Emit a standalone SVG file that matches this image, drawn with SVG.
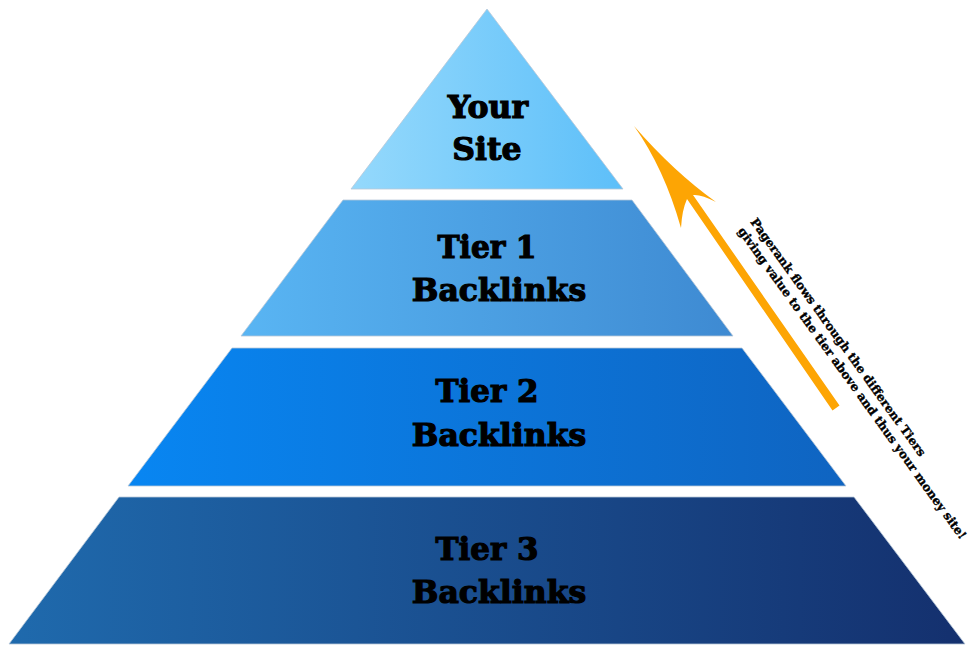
<svg xmlns="http://www.w3.org/2000/svg" width="977" height="653" viewBox="0 0 977 653">
<defs>
<linearGradient id="g0" x1="0" y1="0" x2="1" y2="0"><stop offset="0" stop-color="#95d9fc"/><stop offset="1" stop-color="#5dbff9"/></linearGradient>
<linearGradient id="g1" x1="0" y1="0" x2="1" y2="0"><stop offset="0" stop-color="#59b5f3"/><stop offset="1" stop-color="#3e8ad2"/></linearGradient>
<linearGradient id="g2" x1="0" y1="0" x2="1" y2="0"><stop offset="0" stop-color="#0886f2"/><stop offset="1" stop-color="#0f64c1"/></linearGradient>
<linearGradient id="g3" x1="0" y1="0" x2="1" y2="0"><stop offset="0" stop-color="#1f6aad"/><stop offset="1" stop-color="#14306e"/></linearGradient>
<style>
.shape{stroke:#b8c8d8;stroke-width:0.8;}
.lbl{font-family:"DejaVu Serif","Liberation Serif",serif;font-weight:bold;font-size:31.5px;fill:#000;stroke:#000;stroke-width:1.2;}
.note{font-family:"DejaVu Serif","Liberation Serif",serif;font-weight:bold;font-size:12px;fill:#000;stroke:#000;stroke-width:0.35;}
</style>
</defs>
<rect width="977" height="653" fill="#fff"/>
<g id="your-site">
<polygon class="shape" points="487,9 623,189 351,189" fill="url(#g0)"/>
<text class="lbl" x="488" y="118" text-anchor="middle">Your</text>
<text class="lbl" x="487" y="160" text-anchor="middle">Site</text>
</g>
<g id="tier1">
<polygon class="shape" points="343,200 632,200 733,336 241,336" fill="url(#g1)"/>
<text class="lbl" x="487" y="258" text-anchor="middle" textLength="99" lengthAdjust="spacingAndGlyphs">Tier 1</text>
<text class="lbl" x="499" y="301" text-anchor="middle">Backlinks</text>
</g>
<g id="tier2">
<polygon class="shape" points="232,348 742,348 846,486 128,486" fill="url(#g2)"/>
<text class="lbl" x="487" y="402" text-anchor="middle" textLength="103" lengthAdjust="spacingAndGlyphs">Tier 2</text>
<text class="lbl" x="499" y="446" text-anchor="middle">Backlinks</text>
</g>
<g id="tier3">
<polygon class="shape" points="119,497 854,497 965,644 9,644" fill="url(#g3)"/>
<text class="lbl" x="487" y="560" text-anchor="middle" textLength="103" lengthAdjust="spacingAndGlyphs">Tier 3</text>
<text class="lbl" x="499" y="603" text-anchor="middle">Backlinks</text>
</g>
<g id="connectors">
<path d="M634,126 Q674,172 716,202 Q701,194 693,195 L839.5,405.5 L832.5,410.5 L687,199 Q682,210 681,228 Q664,168 634,126 Z" fill="#fda504"/>
</g>
<g id="note" transform="translate(750,222) rotate(54.2)">
<text class="note" x="0" y="0" textLength="290" lengthAdjust="spacingAndGlyphs">Pagerank flows through the different Tiers</text>
<text class="note" x="0" y="15.5" textLength="381" lengthAdjust="spacingAndGlyphs">giving value to the tier above and thus your money site!</text>
</g>
</svg>
